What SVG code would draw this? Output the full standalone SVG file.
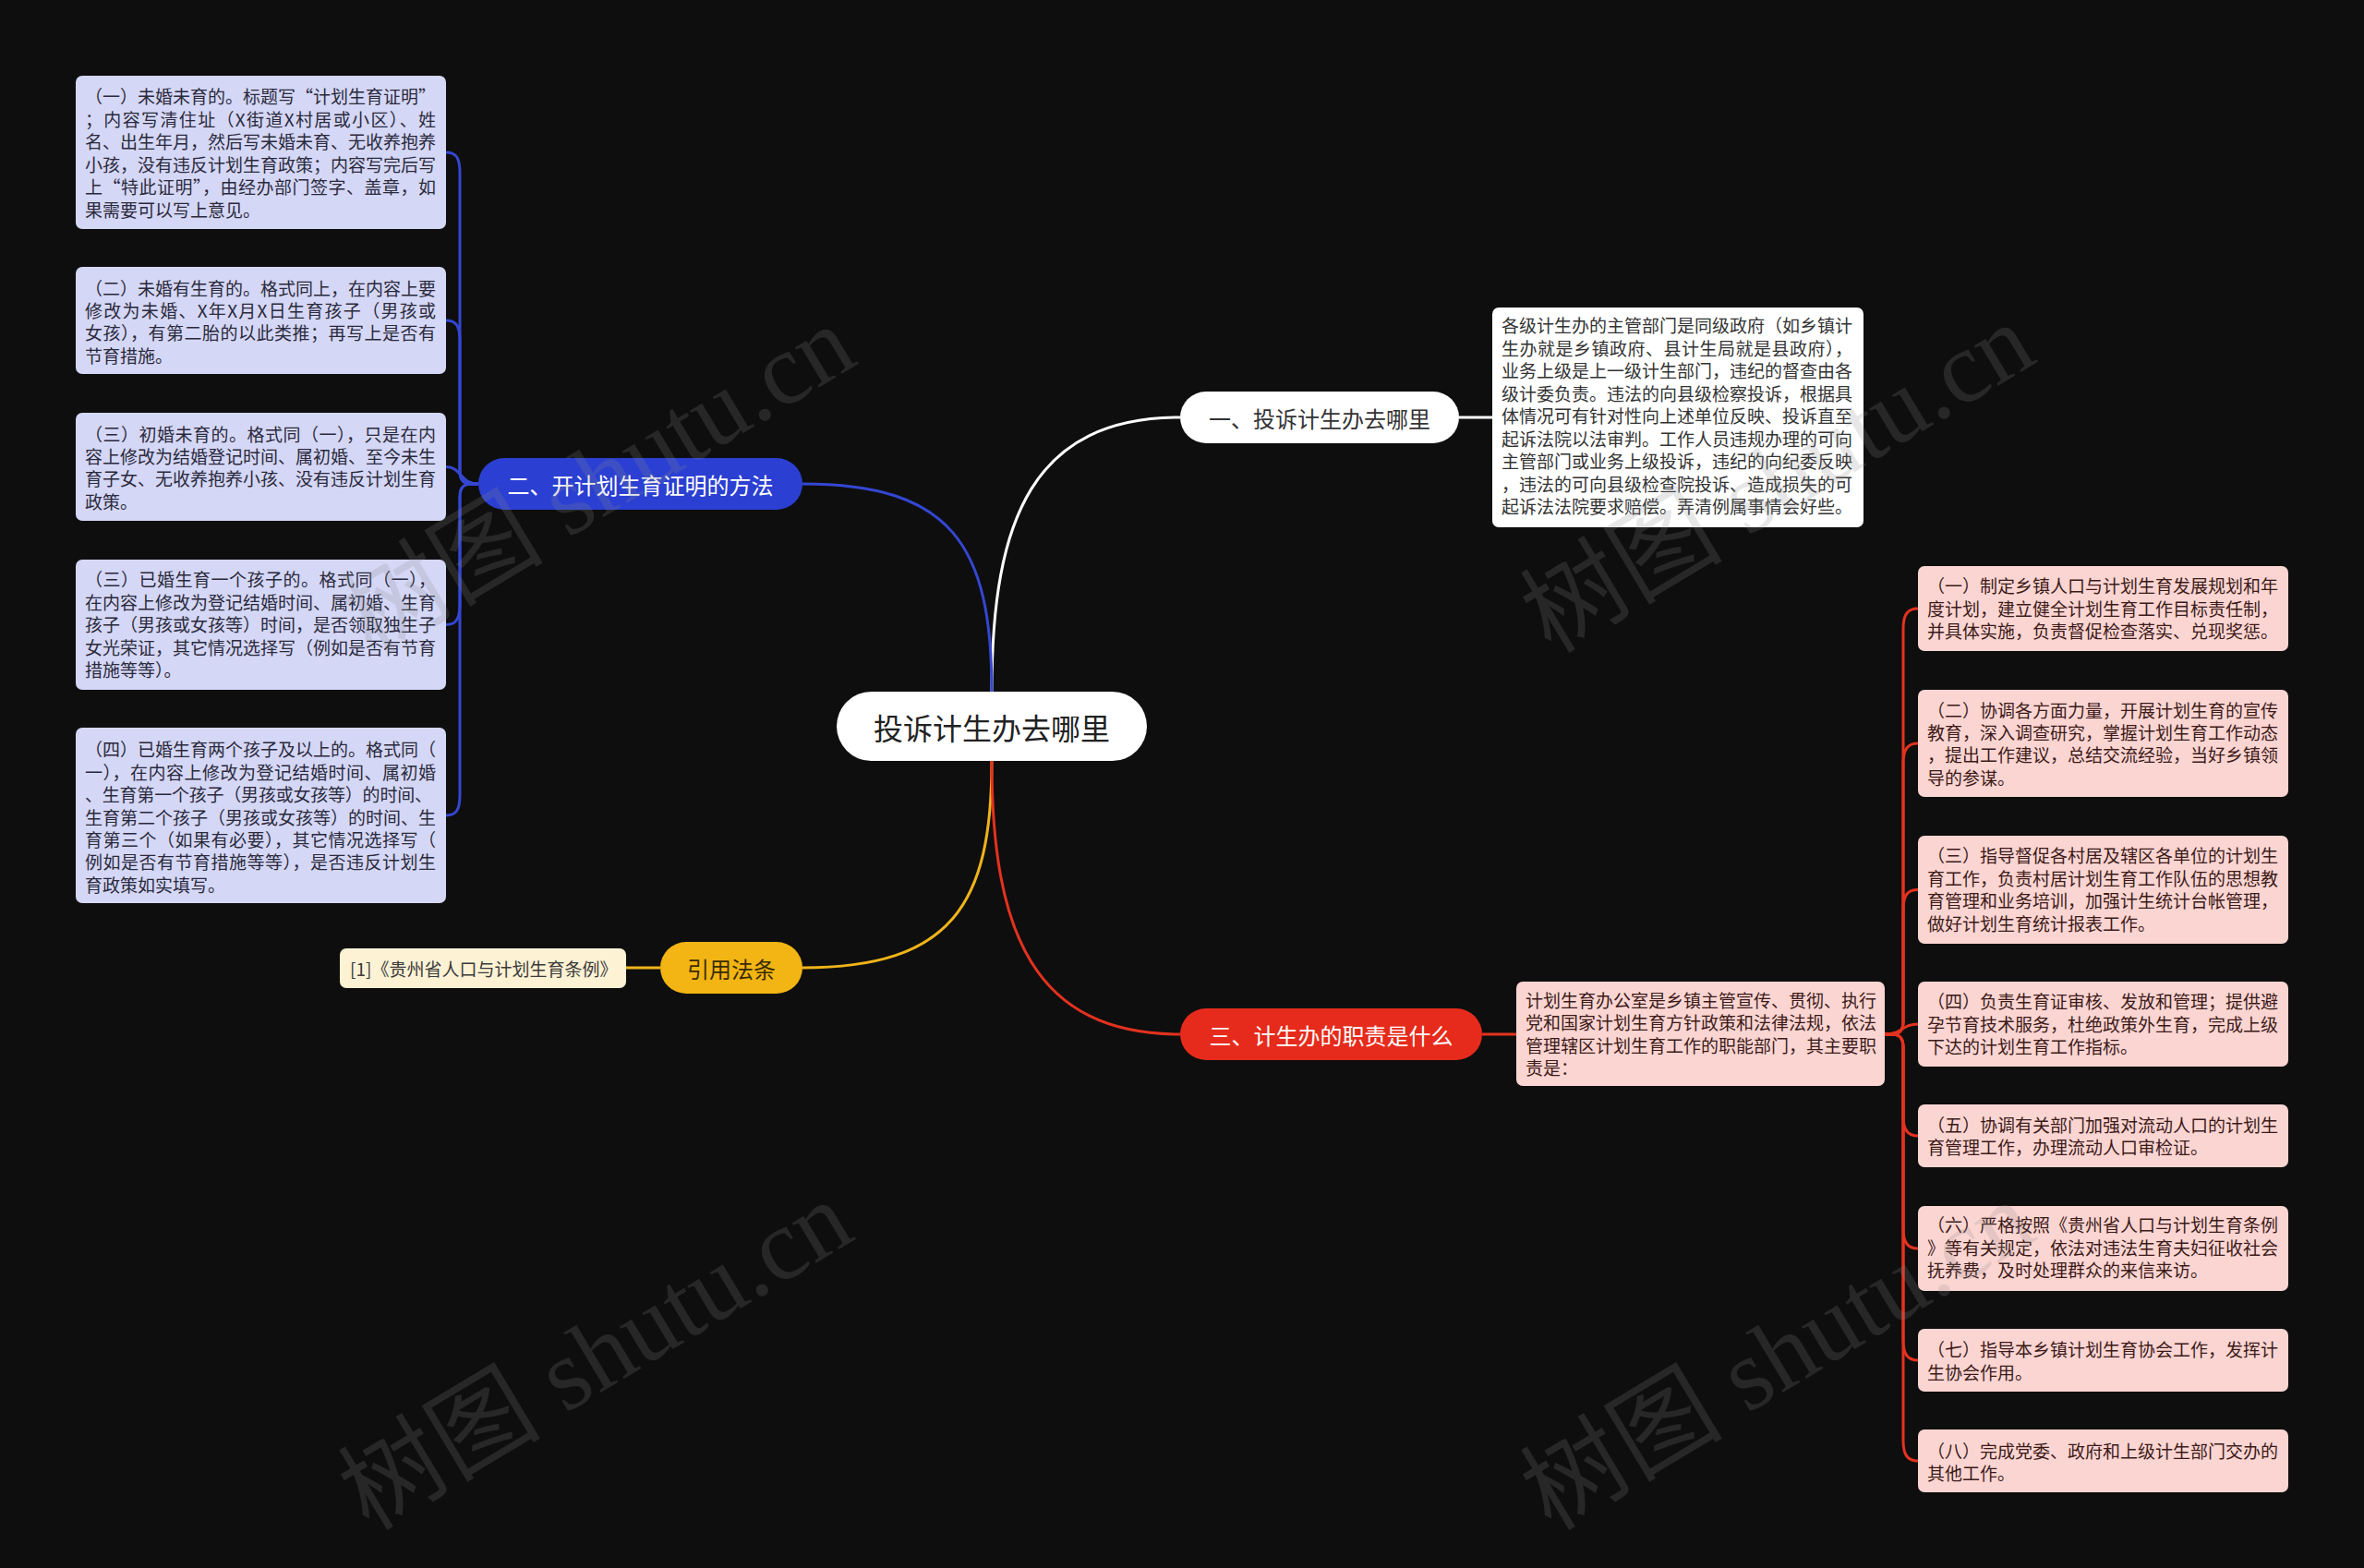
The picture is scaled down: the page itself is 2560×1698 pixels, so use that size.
<svg xmlns="http://www.w3.org/2000/svg" width="2560" height="1698" viewBox="0 0 2560 1698">
<style>
  text { font-family: "Noto Sans CJK SC", "Noto Sans", sans-serif; }
  .bg { fill: #0e0e0e; }
  .lav { fill: #d5d7f6; }
  .pink { fill: #fbd5d2; }
  .wbox { fill: #ffffff; }
  .t19 { font-size: 19px; }
  .tlav { fill: #2a2a3c; }
  .tpink { fill: #3c1a18; }
  .tdark { fill: #333333; }
  .lbl { font-size: 24px; text-anchor: middle; dominant-baseline: central; }
  .cw { fill: none; stroke: #ffffff; stroke-width: 3; }
  .cb { fill: none; stroke: #3447d2; stroke-width: 3; }
  .cy { fill: none; stroke: #f0b41a; stroke-width: 3; }
  .cr { fill: none; stroke: #e3321f; stroke-width: 3; }
  .wm { font-family: "Liberation Serif", "Noto Sans CJK SC", serif; font-size: 110px; fill: #8a8a8a; opacity: 0.2; text-anchor: middle; dominant-baseline: central; }
</style>
<rect class="bg" x="0" y="0" width="2560" height="1698"/>

<g id="connectors">
  <path class="cw" d="M 1074 749 C 1074 560 1120 452 1278 452"/>
  <path class="cb" d="M 1074 749 C 1074 590 1030 524 869 524"/>
  <path class="cy" d="M 1074 824 C 1074 980 1030 1048 869 1048"/>
  <path class="cr" d="M 1074 824 C 1074 1010 1120 1120 1278 1120"/>
  <path class="cw" d="M 1580 452 H 1616"/>
  <path class="cr" d="M 1605 1120 H 1642"/>
  <path class="cy" d="M 715 1048 H 678"/>
  <path class="cb" d="M 518 524 H 510 C 502 524 498 520 498 510 V 187 C 498 171 494 165 483 165"/>
  <path class="cb" d="M 518 524 H 510 C 502 524 498 520 498 510 V 369 C 498 353 494 347 483 347"/>
  <path class="cb" d="M 518 524 C 498 524 500 505.5 483 505.5"/>
  <path class="cb" d="M 518 524 H 510 C 502 524 498 528 498 538 V 654 C 498 670 494 676.5 483 676.5"/>
  <path class="cb" d="M 518 524 H 510 C 502 524 498 528 498 538 V 861 C 498 877 494 883 483 883"/>
  <path class="cr" d="M 2041 1120 H 2049 C 2057 1120 2061 1116 2061 1106 V 681 C 2061 665 2066 659 2077 659"/>
  <path class="cr" d="M 2041 1120 H 2049 C 2057 1120 2061 1116 2061 1106 V 827 C 2061 811 2066 805 2077 805"/>
  <path class="cr" d="M 2041 1120 H 2049 C 2057 1120 2061 1116 2061 1106 V 985 C 2061 969 2066 963.5 2077 963.5"/>
  <path class="cr" d="M 2041 1120 C 2061 1120 2059 1109 2077 1109"/>
  <path class="cr" d="M 2041 1120 H 2049 C 2057 1120 2061 1124 2061 1134 V 1208 C 2061 1224 2066 1230 2077 1230"/>
  <path class="cr" d="M 2041 1120 H 2049 C 2057 1120 2061 1124 2061 1134 V 1330 C 2061 1346 2066 1352 2077 1352"/>
  <path class="cr" d="M 2041 1120 H 2049 C 2057 1120 2061 1124 2061 1134 V 1451 C 2061 1467 2066 1473 2077 1473"/>
  <path class="cr" d="M 2041 1120 H 2049 C 2057 1120 2061 1124 2061 1134 V 1560 C 2061 1576 2066 1582 2077 1582"/>
</g>

<g id="center">
  <rect x="906" y="749" width="336" height="75" rx="37.5" fill="#ffffff"/>
  <text x="1074" y="786.5" font-size="32" text-anchor="middle" dominant-baseline="central" fill="#222222">投诉计生办去哪里</text>
</g>

<g id="branch1">
  <rect x="1278" y="424" width="302" height="56" rx="28" fill="#ffffff"/>
  <text class="lbl" x="1429" y="452" fill="#333333">一、投诉计生办去哪里</text>
</g>

<g id="branch1-text">
  <rect class="wbox" x="1616" y="333" width="402" height="238" rx="7"/>
  <text class="t19 tdark" x="1626">
    <tspan x="1626" y="360" textLength="380">各级计生办的主管部门是同级政府（如乡镇计</tspan>
    <tspan x="1626" y="385" textLength="380">生办就是乡镇政府、县计生局就是县政府），</tspan>
    <tspan x="1626" y="409" textLength="380">业务上级是上一级计生部门，违纪的督查由各</tspan>
    <tspan x="1626" y="434" textLength="380">级计委负责。违法的向县级检察投诉，根据具</tspan>
    <tspan x="1626" y="458" textLength="380">体情况可有针对性向上述单位反映、投诉直至</tspan>
    <tspan x="1626" y="483" textLength="380">起诉法院以法审判。工作人员违规办理的可向</tspan>
    <tspan x="1626" y="507" textLength="380">主管部门或业务上级投诉，违纪的向纪委反映</tspan>
    <tspan x="1626" y="532" textLength="380">，违法的可向县级检查院投诉、造成损失的可</tspan>
    <tspan x="1626" y="556" textLength="380">起诉法法院要求赔偿。弄清例属事情会好些。</tspan>
  </text>
</g>

<g id="branch2">
  <rect x="518" y="496" width="351" height="56" rx="28" fill="#2b40d2"/>
  <text class="lbl" x="693.5" y="524" fill="#ffffff">二、开计划生育证明的方法</text>
</g>

<g id="b2-1">
  <rect class="lav" x="82" y="82" width="401" height="166" rx="7"/>
  <text class="t19 tlav">
    <tspan x="92" y="112" textLength="380">（一）未婚未育的。标题写“计划生育证明”</tspan>
    <tspan x="92" y="137" textLength="380">；内容写清住址（X街道X村居或小区）、姓</tspan>
    <tspan x="92" y="161" textLength="380">名、出生年月，然后写未婚未育、无收养抱养</tspan>
    <tspan x="92" y="186" textLength="380">小孩，没有违反计划生育政策；内容写完后写</tspan>
    <tspan x="92" y="210" textLength="380">上“特此证明”，由经办部门签字、盖章，如</tspan>
    <tspan x="92" y="235">果需要可以写上意见。</tspan>
  </text>
</g>

<g id="b2-2">
  <rect class="lav" x="82" y="289" width="401" height="116" rx="7"/>
  <text class="t19 tlav">
    <tspan x="92" y="320" textLength="380">（二）未婚有生育的。格式同上，在内容上要</tspan>
    <tspan x="92" y="344" textLength="380">修改为未婚、X年X月X日生育孩子（男孩或</tspan>
    <tspan x="92" y="368" textLength="380">女孩），有第二胎的以此类推；再写上是否有</tspan>
    <tspan x="92" y="393">节育措施。</tspan>
  </text>
</g>

<g id="b2-3">
  <rect class="lav" x="82" y="447" width="401" height="117" rx="7"/>
  <text class="t19 tlav">
    <tspan x="92" y="478" textLength="380">（三）初婚未育的。格式同（一），只是在内</tspan>
    <tspan x="92" y="502" textLength="380">容上修改为结婚登记时间、属初婚、至今未生</tspan>
    <tspan x="92" y="526" textLength="380">育子女、无收养抱养小孩、没有违反计划生育</tspan>
    <tspan x="92" y="551">政策。</tspan>
  </text>
</g>

<g id="b2-4">
  <rect class="lav" x="82" y="606" width="401" height="141" rx="7"/>
  <text class="t19 tlav">
    <tspan x="92" y="635" textLength="380">（三）已婚生育一个孩子的。格式同（一），</tspan>
    <tspan x="92" y="660" textLength="380">在内容上修改为登记结婚时间、属初婚、生育</tspan>
    <tspan x="92" y="684" textLength="380">孩子（男孩或女孩等）时间，是否领取独生子</tspan>
    <tspan x="92" y="709" textLength="380">女光荣证，其它情况选择写（例如是否有节育</tspan>
    <tspan x="92" y="733">措施等等）。</tspan>
  </text>
</g>

<g id="b2-5">
  <rect class="lav" x="82" y="788" width="401" height="190" rx="7"/>
  <text class="t19 tlav">
    <tspan x="92" y="819" textLength="380">（四）已婚生育两个孩子及以上的。格式同（</tspan>
    <tspan x="92" y="844" textLength="380">一），在内容上修改为登记结婚时间、属初婚</tspan>
    <tspan x="92" y="868" textLength="376">、生育第一个孩子（男孩或女孩等）的时间、</tspan>
    <tspan x="92" y="893" textLength="380">生育第二个孩子（男孩或女孩等）的时间、生</tspan>
    <tspan x="92" y="917" textLength="380">育第三个（如果有必要），其它情况选择写（</tspan>
    <tspan x="92" y="941" textLength="380">例如是否有节育措施等等），是否违反计划生</tspan>
    <tspan x="92" y="966">育政策如实填写。</tspan>
  </text>
</g>

<g id="branch3">
  <rect x="715" y="1020" width="154" height="56" rx="28" fill="#f2b514"/>
  <text class="lbl" x="792" y="1048" fill="#3a2c00">引用法条</text>
</g>

<g id="ref1">
  <rect x="368" y="1027" width="310" height="43" rx="7" fill="#fdf2d4"/>
  <text class="t19" x="379" y="1048.5" dominant-baseline="central" fill="#3a3a3a">[1]《贵州省人口与计划生育条例》</text>
</g>

<g id="branch4">
  <rect x="1278" y="1092" width="327" height="56" rx="28" fill="#e62b1c"/>
  <text class="lbl" x="1441.5" y="1120" fill="#ffffff">三、计生办的职责是什么</text>
</g>

<g id="branch4-text">
  <rect class="pink" x="1642" y="1063" width="399" height="113" rx="7"/>
  <text class="t19 tpink">
    <tspan x="1652" y="1091" textLength="380">计划生育办公室是乡镇主管宣传、贯彻、执行</tspan>
    <tspan x="1652" y="1115" textLength="380">党和国家计划生育方针政策和法律法规，依法</tspan>
    <tspan x="1652" y="1140" textLength="380">管理辖区计划生育工作的职能部门，其主要职</tspan>
    <tspan x="1652" y="1164">责是：</tspan>
  </text>
</g>

<g id="r1">
  <rect class="pink" x="2077" y="613" width="401" height="92" rx="7"/>
  <text class="t19 tpink">
    <tspan x="2087" y="642" textLength="380">（一）制定乡镇人口与计划生育发展规划和年</tspan>
    <tspan x="2087" y="667" textLength="380">度计划，建立健全计划生育工作目标责任制，</tspan>
    <tspan x="2087" y="691">并具体实施，负责督促检查落实、兑现奖惩。</tspan>
  </text>
</g>

<g id="r2">
  <rect class="pink" x="2077" y="747" width="401" height="116" rx="7"/>
  <text class="t19 tpink">
    <tspan x="2087" y="777" textLength="380">（二）协调各方面力量，开展计划生育的宣传</tspan>
    <tspan x="2087" y="801" textLength="380">教育，深入调查研究，掌握计划生育工作动态</tspan>
    <tspan x="2087" y="825" textLength="380">，提出工作建议，总结交流经验，当好乡镇领</tspan>
    <tspan x="2087" y="850">导的参谋。</tspan>
  </text>
</g>

<g id="r3">
  <rect class="pink" x="2077" y="905" width="401" height="117" rx="7"/>
  <text class="t19 tpink">
    <tspan x="2087" y="934" textLength="380">（三）指导督促各村居及辖区各单位的计划生</tspan>
    <tspan x="2087" y="959" textLength="380">育工作，负责村居计划生育工作队伍的思想教</tspan>
    <tspan x="2087" y="983" textLength="380">育管理和业务培训，加强计生统计台帐管理，</tspan>
    <tspan x="2087" y="1008">做好计划生育统计报表工作。</tspan>
  </text>
</g>

<g id="r4">
  <rect class="pink" x="2077" y="1063" width="401" height="92" rx="7"/>
  <text class="t19 tpink">
    <tspan x="2087" y="1092" textLength="380">（四）负责生育证审核、发放和管理；提供避</tspan>
    <tspan x="2087" y="1117" textLength="380">孕节育技术服务，杜绝政策外生育，完成上级</tspan>
    <tspan x="2087" y="1141">下达的计划生育工作指标。</tspan>
  </text>
</g>

<g id="r5">
  <rect class="pink" x="2077" y="1196" width="401" height="68" rx="7"/>
  <text class="t19 tpink">
    <tspan x="2087" y="1226" textLength="380">（五）协调有关部门加强对流动人口的计划生</tspan>
    <tspan x="2087" y="1250">育管理工作，办理流动人口审检证。</tspan>
  </text>
</g>

<g id="r6">
  <rect class="pink" x="2077" y="1306" width="401" height="92" rx="7"/>
  <text class="t19 tpink">
    <tspan x="2087" y="1334" textLength="380">（六）严格按照《贵州省人口与计划生育条例</tspan>
    <tspan x="2087" y="1359" textLength="380">》等有关规定，依法对违法生育夫妇征收社会</tspan>
    <tspan x="2087" y="1383">抚养费，及时处理群众的来信来访。</tspan>
  </text>
</g>

<g id="r7">
  <rect class="pink" x="2077" y="1439" width="401" height="68" rx="7"/>
  <text class="t19 tpink">
    <tspan x="2087" y="1469" textLength="380">（七）指导本乡镇计划生育协会工作，发挥计</tspan>
    <tspan x="2087" y="1494">生协会作用。</tspan>
  </text>
</g>

<g id="r8">
  <rect class="pink" x="2077" y="1548" width="401" height="68" rx="7"/>
  <text class="t19 tpink">
    <tspan x="2087" y="1579" textLength="380">（八）完成党委、政府和上级计生部门交办的</tspan>
    <tspan x="2087" y="1603">其他工作。</tspan>
  </text>
</g>

<g id="watermarks">
  <text class="wm" transform="translate(648 520) rotate(-31)">树图 shutu.cn</text>
  <text class="wm" transform="translate(1925 518) rotate(-31)">树图 shutu.cn</text>
  <text class="wm" transform="translate(645 1468) rotate(-31)">树图 shutu.cn</text>
  <text class="wm" transform="translate(1925 1468) rotate(-31)">树图 shutu.cn</text>
</g>
</svg>
